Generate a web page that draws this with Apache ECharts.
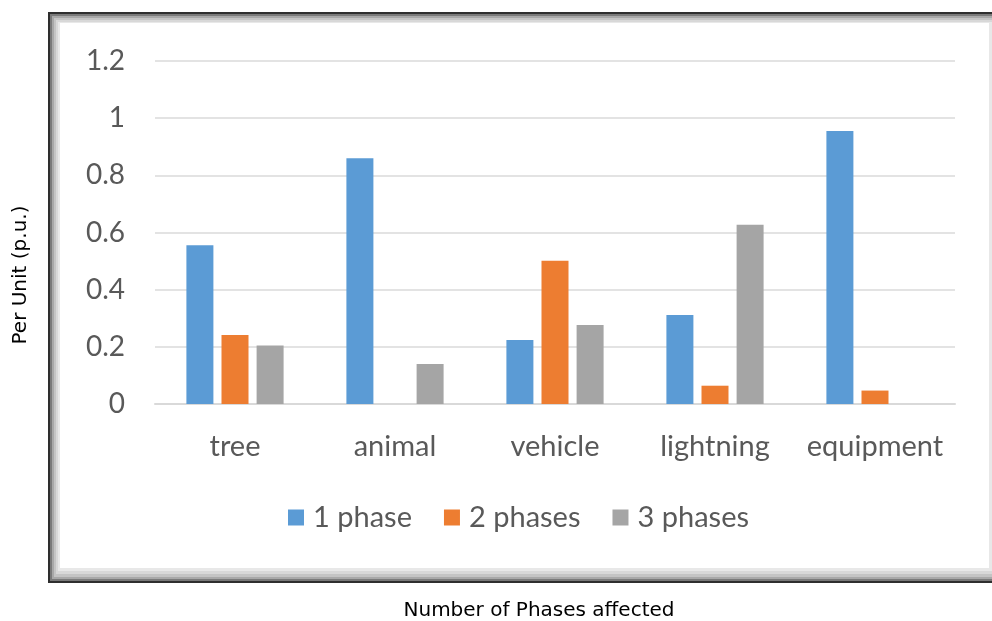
<!DOCTYPE html>
<html>
<head>
<meta charset="utf-8">
<script src="https://cdn.jsdelivr.net/npm/echarts@6/dist/echarts.min.js"></script>
<style>
  html, body { margin: 0; padding: 0; background: #ffffff; }
  #chart { width: 992px; height: 621px; }
</style>
</head>
<body>
<div id="chart"></div>
<script>
// Fault causes on the category axis
const categories = ['tree', 'animal', 'vehicle', 'lightning', 'equipment'];

// Per-unit share of faults by number of phases involved
const onePhase   = [0.555, 0.86, 0.224, 0.311, 0.955];
const twoPhases  = [0.241, 0, 0.501, 0.064, 0.047];
const threePhases = [0.205, 0.14, 0.276, 0.627, 0];

const seriesNames = ['1 phase', '2 phases', '3 phases'];
const yTicks = { min: 0, max: 1.2, step: 0.2 };

const labelFont = 'Lato, "Open Sans", sans-serif';
const titleFont = '"DejaVu Sans", Verdana, sans-serif';
const labelColor = '#595959';

const chart = echarts.init(document.getElementById('chart'), null, { renderer: 'canvas' });

// Bevelled picture frame around the plot
const frame = [
  { shape: { x: 48, y: 12, width: 960, height: 571 }, style: { fill: '#2e2e2e' } },
  { shape: { x: 50, y: 14, width: 960, height: 567 }, style: { fill: '#7a7a7a' } },
  { shape: { x: 52, y: 16, width: 960, height: 563 }, style: { fill: '#a8a8a8' } },
  { shape: { x: 54, y: 18, width: 960, height: 559 }, style: { fill: '#c4c4c4' } },
  { shape: { x: 56, y: 20, width: 960, height: 554 }, style: { fill: '#d8d8d8' } },
  { shape: { x: 58, y: 22, width: 960, height: 549 }, style: { fill: '#e8e8e8' } },
  { shape: { x: 60, y: 23, width: 929, height: 545 }, style: { fill: '#ffffff' } }
].map(r => Object.assign({ type: 'rect', silent: true, z: -10 }, r));

const barStyle = color => ({ color: color });

chart.setOption({
  animation: false,
  backgroundColor: '#ffffff',
  grid: { left: 155, right: 37, top: 61, bottom: 217, containLabel: false },
  legend: {
    left: 288,
    top: 503,
    padding: 0,
    icon: 'rect',
    itemWidth: 16,
    itemHeight: 16,
    itemGap: 32,
    textStyle: { fontFamily: labelFont, fontSize: 29, color: labelColor, padding: [0, 0, 0, 4] },
    data: seriesNames
  },
  xAxis: {
    type: 'category',
    data: categories,
    axisLine: { show: true, lineStyle: { color: '#d9d9d9', width: 2 } },
    axisTick: { show: false },
    axisLabel: { interval: 0, fontFamily: labelFont, fontSize: 29, color: labelColor, margin: 28 }
  },
  yAxis: {
    type: 'value',
    min: yTicks.min,
    max: yTicks.max,
    interval: yTicks.step,
    axisLine: { show: false },
    axisTick: { show: false },
    splitLine: { lineStyle: { color: '#e3e3e3', width: 2 } },
    axisLabel: { fontFamily: labelFont, fontSize: 28, color: labelColor, margin: 30 }
  },
  graphic: frame.concat([
    {
      type: 'text',
      x: 21, y: 275,
      rotation: Math.PI / 2,
      style: {
        text: 'Per Unit (p.u.)',
        font: '20px ' + titleFont,
        fill: '#000000',
        align: 'center',
        verticalAlign: 'middle'
      }
    },
    {
      type: 'text',
      x: 539, y: 611,
      style: {
        text: 'Number of Phases affected',
        font: '20px ' + titleFont,
        fill: '#000000',
        align: 'center',
        verticalAlign: 'middle'
      }
    }
  ]),
  series: [
    { name: seriesNames[0], type: 'bar', data: onePhase, barWidth: 27, barGap: '30%', itemStyle: barStyle('#5b9bd5') },
    { name: seriesNames[1], type: 'bar', data: twoPhases, barWidth: 27, barGap: '30%', itemStyle: barStyle('#ed7d31') },
    { name: seriesNames[2], type: 'bar', data: threePhases, barWidth: 27, barGap: '30%', itemStyle: barStyle('#a5a5a5') }
  ]
});
</script>
</body>
</html>
